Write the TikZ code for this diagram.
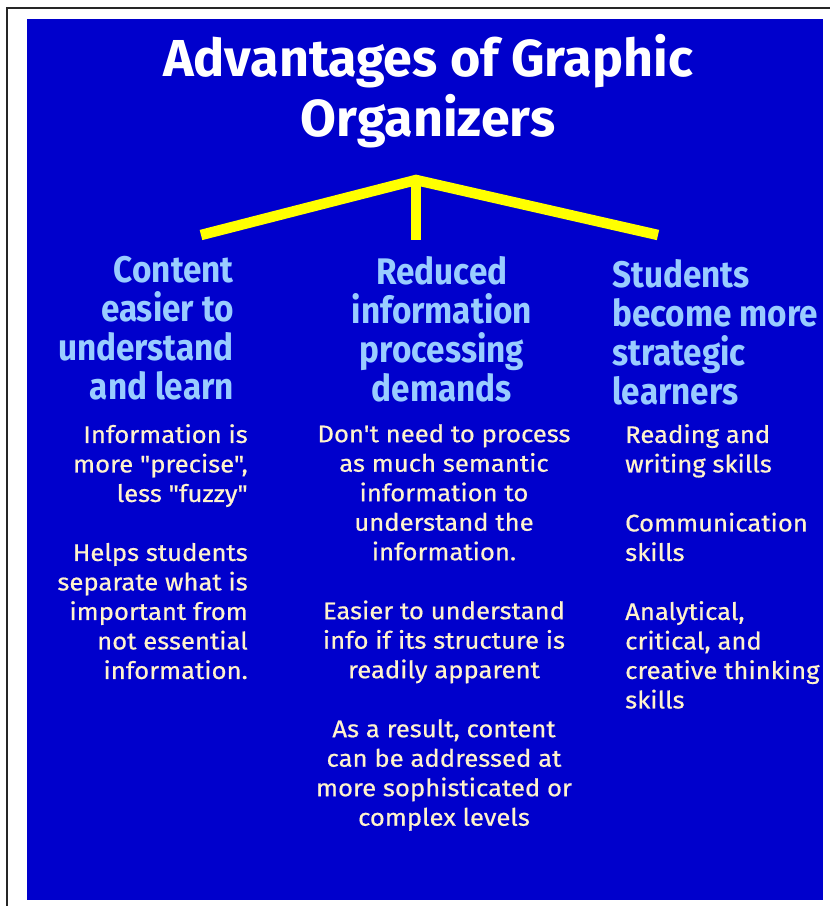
\documentclass[tikz,border=0pt]{standalone}
\usepackage{fontspec}
\setmainfont{Fira Sans}
\newfontfamily\headfont[FakeStretch=0.9]{Fira Sans}
\newfontfamily\bodyfont[FakeStretch=1.07, FakeBold=0.6]{Fira Sans}
\usetikzlibrary{positioning}
\definecolor{slideblue}{HTML}{0000CC}
\definecolor{headblue}{HTML}{99CCFF}
\definecolor{creamtext}{HTML}{FFF3CC}
\definecolor{roofyellow}{HTML}{FFFF00}
\tikzset{
    titletext/.style = {text=white, font=\fontsize{52}{60}\selectfont\bfseries, align=center, inner sep=0pt},
    heading/.style = {text=headblue, font=\headfont\fontsize{37}{39}\selectfont\bfseries, inner sep=0pt},
    body/.style = {text=creamtext, font=\bodyfont\fontsize{24}{29.5}\selectfont, inner sep=0pt},
    roof/.style = {draw=roofyellow, line width=10.5pt}
}

\begin{document}
\begin{tikzpicture}[x=1pt, y=-1pt]
    % --- PAGE AND SLIDE ---
    \useasboundingbox (0,0) rectangle (830,906);
    \fill[white] (0,0) rectangle (830,906);
    \fill[slideblue] (27,19) rectangle (823,900);
    \draw[black!85, line width=2pt] (7,906) -- (7,8.3) -- (830,8.3);

    % --- TITLE ---
    \node [titletext, anchor=north] (title) at (428,34) {Advantages of Graphic\\Organizers};

    % --- ROOF ---
    \coordinate (apex) at (416,180);
    \coordinate (roofleft) at (201,235);
    \coordinate (roofright) at (658,235);
    \coordinate (stem) at (416,240);
    \draw [roof, line join=miter] (roofleft) -- (apex) -- (roofright);
    \draw [roof] (apex) -- (stem);

    % --- HEADINGS ---
    \node [heading, align=right, anchor=north east] (content) at (234,256) {Content\\easier to\\understand\\and learn};
    \node [heading, align=center, anchor=north] (reduced) at (442,256) {Reduced\\information\\processing\\demands};
    \node [heading, align=left, anchor=north west] (students) at (612,259) {Students\\become more\\strategic\\learners};

    % --- DETAILS ---
    \node [body, align=right, anchor=north east] (precise) at (248,424) {Information is\\more "precise",\\less "fuzzy"\\[29.5pt]
        Helps students\\separate what is\\important from\\not essential\\information.};
    \node [body, align=center, anchor=north] (semantic) at (444,424) {Don't need to process\\as much semantic\\information to\\understand the\\information.\\[29.5pt]
        Easier to understand\\info if its structure is\\readily apparent\\[29.5pt]
        As a result, content\\can be addressed at\\more sophisticated or\\complex levels};
    \node [body, align=left, anchor=north west] (skills) at (625,424) {Reading and\\writing skills\\[29.5pt]
        Communication\\skills\\[29.5pt]
        Analytical,\\critical, and\\creative thinking\\skills};
\end{tikzpicture}
\end{document}
